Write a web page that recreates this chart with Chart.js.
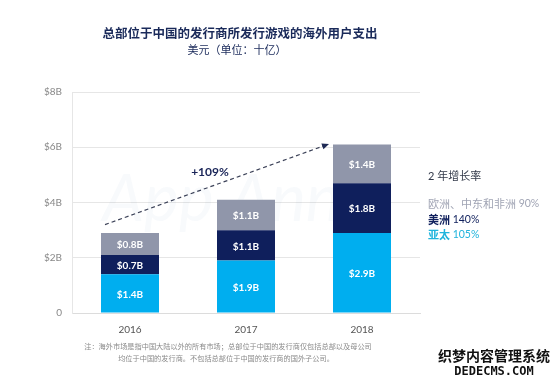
<!DOCTYPE html>
<html>
<head>
<meta charset="utf-8">
<script src="https://cdn.jsdelivr.net/npm/chart.js@4/dist/chart.umd.min.js"></script>
<style>
html,body{margin:0;padding:0;background:#fff;}
#wrap{position:relative;width:550px;height:384px;}
</style>
</head>
<body>
<div id="wrap"><canvas id="c" width="550" height="384"></canvas></div>
<script>
const years = ['2016', '2017', '2018'];
const seriesNames = ['亚太', '美洲', '欧洲、中东和非洲'];
const apacValues = [1.4, 1.9, 2.9];
const americasValues = [0.7, 1.1, 1.8];
const emeaValues = [0.8, 1.1, 1.4];
const growthRates = ['105%', '140%', '90%'];
const yTicks = [0, 2, 4, 6, 8];
const totalGrowth = '+109%';

const title = '总部位于中国的发行商所发行游戏的海外用户支出';
const subtitle = '美元（单位：十亿）';
const legendTitle = '2 年增长率';
const note1 = '注：海外市场是指中国大陆以外的所有市场；总部位于中国的发行商仅包括总部以及母公司';
const note2 = '均位于中国的发行商。不包括总部位于中国的发行商的国外子公司。';

const colors = ['#00aeef', '#0f1f5c', '#9096aa'];
const legendColors = ['#20b4dc', '#0f1f5c', '#a0a4b4'];
const FONT = "Lato, 'Noto Sans CJK SC', sans-serif";

const overlay = {
  id: 'overlay',
  beforeDatasetsDraw(chart) {
    const ctx = chart.ctx;
    ctx.save();
    ctx.globalAlpha = 0.035;
    ctx.fillStyle = '#3a6fb0';
    ctx.font = "italic 66px " + FONT;
    ctx.textAlign = 'center';
    ctx.textBaseline = 'middle';
    ctx.fillText('App Annie', 245, 200);
    ctx.restore();
  },
  afterDatasetsDraw(chart) {
    const ctx = chart.ctx;
    const x = chart.scales.x, y = chart.scales.y;
    ctx.save();
    ctx.fillStyle = '#ffffff';
    ctx.font = "bold 10px " + FONT;
    ctx.textAlign = 'center';
    ctx.textBaseline = 'middle';
    chart.data.datasets.forEach((ds, di) => {
      const meta = chart.getDatasetMeta(di);
      meta.data.forEach((bar, i) => {
        const cy = (bar.y + bar.base) / 2;
        ctx.fillText('$' + ds.data[i].toFixed(1) + 'B', bar.x, cy + 1);
      });
    });
    const x0 = x.getPixelForValue(0) - 25, y0 = y.getPixelForValue(3.2);
    const x1 = x.getPixelForValue(2) - 33, y1 = y.getPixelForValue(6.12);
    ctx.strokeStyle = '#3c4258';
    ctx.lineWidth = 1.2;
    ctx.setLineDash([4, 3]);
    ctx.beginPath();
    ctx.moveTo(x0, y0);
    ctx.lineTo(x1 - 4, y1 + 1.5);
    ctx.stroke();
    ctx.setLineDash([]);
    const ang = Math.atan2(y1 - y0, x1 - x0);
    ctx.fillStyle = '#1f2a55';
    ctx.beginPath();
    ctx.moveTo(x1, y1);
    ctx.lineTo(x1 - 7 * Math.cos(ang) + 3 * Math.sin(ang), y1 - 7 * Math.sin(ang) - 3 * Math.cos(ang));
    ctx.lineTo(x1 - 7 * Math.cos(ang) - 3 * Math.sin(ang), y1 - 7 * Math.sin(ang) + 3 * Math.cos(ang));
    ctx.closePath();
    ctx.fill();
    ctx.fillStyle = '#1a2558';
    ctx.font = "bold 12px " + FONT;
    ctx.textAlign = 'center';
    ctx.fillText(totalGrowth, 210, 172);

    ctx.fillStyle = '#1a2a5a';
    ctx.font = "bold 12.5px " + FONT;
    ctx.fillText(title, 240, 34);
    ctx.font = "11px " + FONT;
    ctx.fillText(subtitle, 237, 50);

    ctx.textAlign = 'left';
    ctx.fillStyle = '#333a4a';
    ctx.font = "11px " + FONT;
    ctx.fillText(legendTitle, 428, 176);
    const rows = [[2, 204], [1, 220], [0, 235]];
    rows.forEach(([si, ly]) => {
      ctx.fillStyle = legendColors[si];
      ctx.font = (si === 2 ? "" : "bold ") + "11px " + FONT;
      const name = seriesNames[si];
      ctx.fillText(name, 428, ly);
      const w = ctx.measureText(name).width;
      ctx.font = "10.5px " + FONT;
      ctx.fillText(' ' + growthRates[si], 428 + w, ly);
    });

    ctx.textAlign = 'center';
    ctx.fillStyle = '#8a8a8a';
    ctx.font = "7.2px " + FONT;
    ctx.fillText(note1, 228, 347);
    ctx.fillText(note2, 226, 359);

    ctx.font = "bold 14px " + FONT;
    ctx.lineWidth = 2;
    ctx.strokeStyle = '#ffffff';
    ctx.fillStyle = '#111';
    ctx.strokeText('织梦内容管理系统', 494, 356);
    ctx.fillText('织梦内容管理系统', 494, 356);
    ctx.font = "bold 12px 'DejaVu Sans Mono', monospace";
    ctx.fillText('DEDECMS.COM', 494, 372);
    ctx.restore();
  }
};

new Chart(document.getElementById('c'), {
  type: 'bar',
  data: {
    labels: years,
    datasets: [
      { label: seriesNames[0], data: apacValues, backgroundColor: colors[0] },
      { label: seriesNames[1], data: americasValues, backgroundColor: colors[1] },
      { label: seriesNames[2], data: emeaValues, backgroundColor: colors[2] }
    ]
  },
  options: {
    responsive: false,
    animation: false,
    devicePixelRatio: 1,
    layout: { padding: { left: 0, top: 92, right: 130, bottom: 0 } },
    datasets: { bar: { barPercentage: 0.5, categoryPercentage: 1 } },
    plugins: { legend: { display: false }, tooltip: { enabled: false }, title: { display: false } },
    scales: {
      x: {
        stacked: true,
        afterFit: s => { s.height = 71; },
        grid: { display: false },
        border: { display: true, color: '#dcdcdc' },
        ticks: { color: '#555', font: { family: FONT, size: 10 }, padding: 3 }
      },
      y: {
        stacked: true,
        min: 0, max: 8,
        afterFit: s => { s.width = 72; },
        afterBuildTicks: s => { s.ticks = yTicks.map(v => ({ value: v })); },
        grid: { color: '#e6e6e6', drawTicks: false },
        border: { display: true, color: '#e6e6e6' },
        ticks: {
          color: '#888',
          padding: 10,
          font: { family: FONT, size: 10 },
          callback: v => v === 0 ? '0' : '$' + v + 'B'
        }
      }
    }
  },
  plugins: [overlay]
});
</script>
</body>
</html>
